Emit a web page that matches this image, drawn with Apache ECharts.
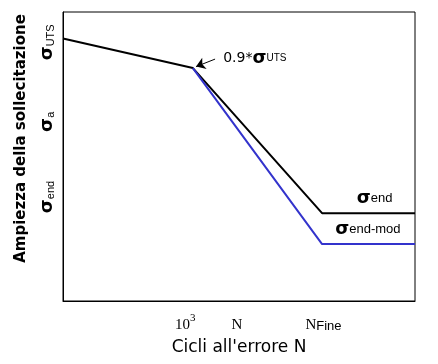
<!DOCTYPE html>
<html>
<head>
<meta charset="utf-8">
<script src="https://cdn.jsdelivr.net/npm/echarts@6/dist/echarts.min.js"></script>
<style>html,body{margin:0;padding:0;background:#fff;}#c{width:438px;height:364px;}</style>
</head>
<body>
<div id="c"></div>
<script>
// Data (arbitrary normalized units 0..100 on both axes)
const blackX = [0, 36.9, 73.6, 100];
const blackY = [90.8, 80.6, 30.4, 30.4];
const blueX = [36.9, 73.6, 100];
const blueY = [80.6, 19.7, 19.7];
const xTickValues = [34.7, 49.4, 74.0];
const xTickLabels = ['10^3', 'N', 'N_Fine'];
const yTickValues = [89.5, 62, 36];
const yTickLabels = ['UTS', 'a', 'end'];
const annotationText = '0.9*';

const chart = echarts.init(document.getElementById('c'), null, {renderer: 'canvas'});
const sigFont = '"DejaVu Sans", sans-serif';
const subFont = '"Liberation Sans", "DejaVu Sans", sans-serif';

const xRich = {
  n: {fontFamily: '"Liberation Serif", "DejaVu Serif", serif', fontSize: 15, color: '#000', lineHeight: 20, verticalAlign: 'bottom'},
  sup: {fontFamily: '"Liberation Serif", serif', fontSize: 11, color: '#000', lineHeight: 20, verticalAlign: 'top', padding: [0,0,0,0]},
  sub: {fontFamily: subFont, fontSize: 13, color: '#000', lineHeight: 20, verticalAlign: 'bottom', padding: [10,0,0,0]}
};
const yRich = {
  s: {fontFamily: sigFont, fontSize: 18, fontWeight: 'bold', color: '#000', lineHeight: 20, verticalAlign: 'bottom'},
  sub: {fontFamily: subFont, fontSize: 11, color: '#000', lineHeight: 20, verticalAlign: 'bottom', padding: [5,0,0,0]}
};

function xFmt(v) {
  const i = xTickValues.findIndex(t => Math.abs(t - v) < 1e-6);
  const s = xTickLabels[i] || '';
  if (s.indexOf('^') >= 0) { const p = s.split('^'); return '{n|' + p[0] + '}{sup|' + p[1] + '}'; }
  if (s.indexOf('_') >= 0) { const p = s.split('_'); return '{n|' + p[0] + '}{sub|' + p[1] + '}'; }
  return '{n|' + s + '}';
}
function yFmt(v) {
  const i = yTickValues.findIndex(t => Math.abs(t - v) < 1e-6);
  return '{s|σ}{sub|' + (yTickLabels[i] || '') + '}';
}

const option = {
  animation: false,
  backgroundColor: '#fff',
  grid: {left: 63, right: 23, top: 12, bottom: 63, show: true, borderColor: '#000', borderWidth: 1, containLabel: false},
  xAxis: {
    type: 'value', min: 0, max: 100,
    axisLine: {show: true, lineStyle: {color: '#000', width: 1}},
    axisTick: {show: false},
    splitLine: {show: false},
    axisLabel: {customValues: xTickValues, formatter: xFmt, rich: xRich, margin: 12, showMinLabel: true, showMaxLabel: true},
    name: "Cicli all'errore N",
    nameLocation: 'middle',
    nameGap: 38,
    nameTextStyle: {fontFamily: '"DejaVu Sans", sans-serif', fontSize: 17, color: '#000'}
  },
  yAxis: {
    type: 'value', min: 0, max: 100,
    axisLine: {show: true, lineStyle: {color: '#000', width: 1}},
    axisTick: {show: false},
    splitLine: {show: false},
    axisLabel: {customValues: yTickValues, formatter: yFmt, rich: yRich, rotate: 90, margin: 7},
    name: 'Ampiezza della sollecitazione',
    nameLocation: 'middle',
    nameGap: 34,
    nameTextStyle: {fontFamily: '"DejaVu Sans", sans-serif', fontSize: 15, fontWeight: 'bold', color: '#000', padding: [0,0,0,36]}
  },
  series: [
    {
      type: 'line', name: 'black',
      data: blackX.map((x, i) => [x, blackY[i]]),
      showSymbol: false, symbol: 'none',
      lineStyle: {color: '#000', width: 2},
      z: 2,
      markLine: {
        silent: true, symbol: ['none', 'arrow'], symbolSize: 9,
        lineStyle: {color: '#000', width: 1, type: 'solid'},
        itemStyle: {color: '#000'},
        label: {show: false},
        data: [[{coord: [43.2, 83.7]}, {coord: [37.8, 81.1]}]]
      },
      markPoint: {
        silent: true, symbol: 'rect', symbolSize: 1, itemStyle: {color: 'rgba(0,0,0,0)'},
        data: [
          {coord: [54.5, 84.1], label: {show: true, position: 'inside', formatter: '{t|' + annotationText + '}{s|σ}{u|UTS}',
            rich: {t: {fontFamily: '"DejaVu Sans", sans-serif', fontSize: 14, color: '#000'},
                   s: {fontFamily: sigFont, fontSize: 18, fontWeight: 'bold', color: '#000'},
                   u: {fontFamily: subFont, fontSize: 10, color: '#000'}}}},
          {coord: [88.5, 35.6], label: {show: true, position: 'inside', formatter: '{s|σ}{u|end}',
            rich: {s: {fontFamily: sigFont, fontSize: 18, fontWeight: 'bold', color: '#000'},
                   u: {fontFamily: subFont, fontSize: 13, color: '#000'}}}},
          {coord: [86.6, 24.9], label: {show: true, position: 'inside', formatter: '{s|σ}{u|end-mod}',
            rich: {s: {fontFamily: sigFont, fontSize: 18, fontWeight: 'bold', color: '#000'},
                   u: {fontFamily: subFont, fontSize: 13, color: '#000'}}}}
        ]
      }
    },
    {
      type: 'line', name: 'blue',
      data: blueX.map((x, i) => [x, blueY[i]]),
      showSymbol: false, symbol: 'none',
      lineStyle: {color: '#3333cc', width: 2},
      z: 3
    }
  ]
};
chart.setOption(option);
</script>
</body>
</html>
